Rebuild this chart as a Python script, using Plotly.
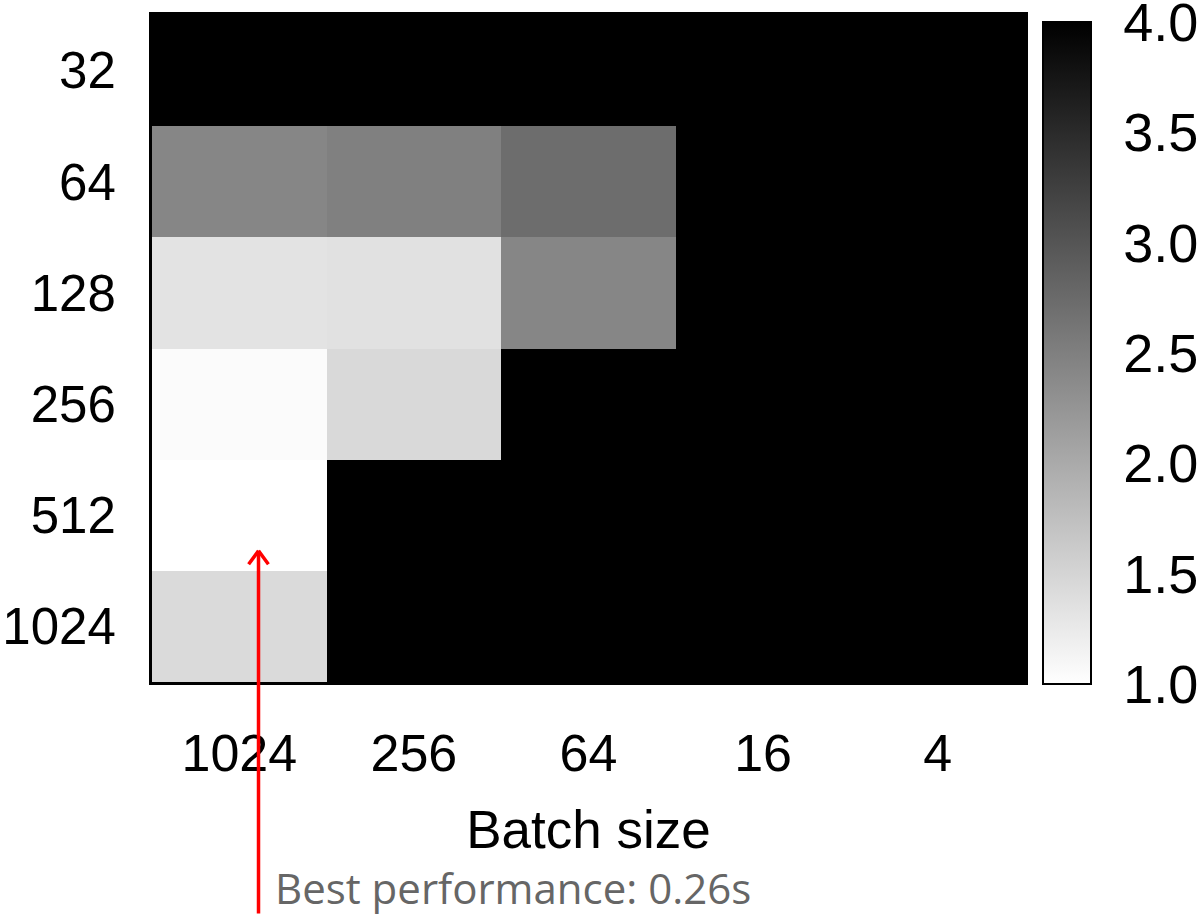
import plotly.graph_objects as go

# Normalized run time (1.0 = best run, 0.26 s); None = no usable measurement
batch_sizes = ["1024", "256", "64", "16", "4"]
row_labels = ["32", "64", "128", "256", "512", "1024"]

row_32 = [None, None, None, None, None]
row_64 = [2.42, 2.49, 2.72, None, None]
row_128 = [1.33, 1.35, 2.42, None, None]
row_256 = [1.05, 1.45, None, None, None]
row_512 = [1.00, None, None, None, None]
row_1024 = [1.44, None, None, None, None]

cbar_ticks = [1.0, 1.5, 2.0, 2.5, 3.0, 3.5, 4.0]

z = [row_32, row_64, row_128, row_256, row_512, row_1024]

FONT = "Liberation Sans, Arial, sans-serif"

fig = go.Figure(
    go.Heatmap(
        z=z,
        x=batch_sizes,
        y=row_labels,
        zmin=1.0,
        zmax=4.0,
        colorscale=[[0, "#ffffff"], [1, "#000000"]],
        hoverongaps=False,
        colorbar=dict(
            thickness=48,
            lenmode="pixels",
            len=662,
            ypad=0,
            y=0.493,
            yanchor="middle",
            x=1.0,
            xanchor="left",
            xpad=18,
            outlinewidth=2,
            outlinecolor="black",
            tickvals=cbar_ticks,
            ticktext=[f"{t:.1f}" for t in cbar_ticks],
            ticks="outside",
            ticklen=21,
            tickcolor="rgba(0,0,0,0)",
            ticklabeloverflow="allow",
            tickfont=dict(family=FONT, size=54, color="black"),
        ),
    )
)

fig.update_xaxes(
    type="category",
    showline=True,
    mirror=True,
    linewidth=3,
    linecolor="black",
    showgrid=False,
    zeroline=False,
    ticks="outside",
    ticklen=24,
    tickcolor="rgba(0,0,0,0)",
    tickfont=dict(family=FONT, size=52, color="black"),
    title=dict(text="Batch size", font=dict(family=FONT, size=53, color="black"), standoff=30),
)
fig.update_yaxes(
    type="category",
    autorange="reversed",
    showline=True,
    mirror=True,
    linewidth=3,
    linecolor="black",
    showgrid=False,
    zeroline=False,
    ticks="outside",
    ticklen=23,
    tickcolor="rgba(0,0,0,0)",
    tickfont=dict(family=FONT, size=51, color="black"),
)

# Red arrow pointing at the best cell
arrow = dict(xref="x", yref="y", x=0.11, y=4.32, text="", showarrow=True,
             arrowcolor="red", arrowwidth=3.5, arrowhead=0, axref="pixel", ayref="pixel")
fig.add_annotation(**arrow, ax=0, ay=380)
fig.add_annotation(**arrow, ax=-11, ay=15)
fig.add_annotation(**arrow, ax=11, ay=15)

fig.add_annotation(
    xref="paper", yref="paper", x=0.1386, y=-0.308,
    xanchor="left", yanchor="middle", showarrow=False,
    text="Best performance: 0.26s",
    font=dict(family="Open Sans, sans-serif", size=42, color="#666666"),
)

fig.update_layout(
    width=1202,
    height=915,
    margin=dict(l=152, r=177, t=15, b=233, autoexpand=False),
    paper_bgcolor="white",
    plot_bgcolor="black",
    showlegend=False,
)

fig.write_html("out.html")
